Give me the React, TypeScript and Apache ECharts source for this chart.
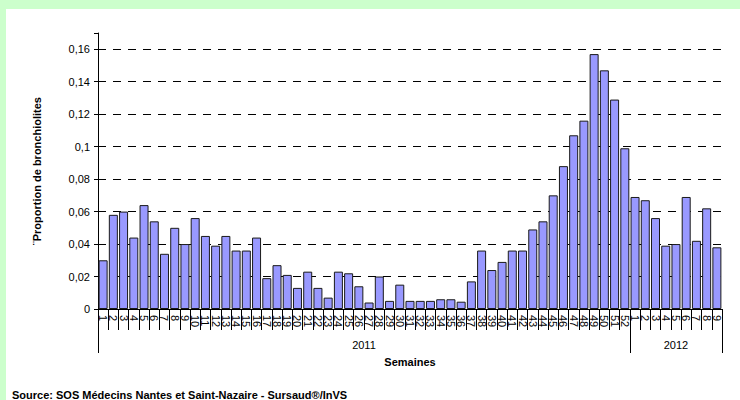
import React, { useEffect, useRef } from "react";
import * as echarts from "echarts";

const weeks2011: string[] = Array.from({ length: 52 }, (_, i) => String(i + 1));
const weeks2012: string[] = ["1", "2", "3", "4", "5", "6", "7", "8", "9"];
const categories: string[] = [...weeks2011, ...weeks2012];

const values2011: number[] = [
  0.030, 0.058, 0.060, 0.044, 0.064, 0.054, 0.034, 0.050, 0.040, 0.056,
  0.045, 0.039, 0.045, 0.036, 0.036, 0.044, 0.019, 0.027, 0.021, 0.013,
  0.023, 0.013, 0.007, 0.023, 0.022, 0.014, 0.004, 0.020, 0.005, 0.015,
  0.005, 0.005, 0.005, 0.006, 0.006, 0.0045, 0.017, 0.036, 0.024, 0.029,
  0.036, 0.036, 0.049, 0.054, 0.070, 0.088, 0.107, 0.116, 0.157, 0.147,
  0.129, 0.099,
];
const values2012: number[] = [0.069, 0.067, 0.056, 0.039, 0.040, 0.069, 0.042, 0.062, 0.038];
const values: number[] = [...values2011, ...values2012];

const yearLabels: string[] = ["2011", "2012"];
const yTitle = "¨Proportion de bronchiolites";
const xTitle = "Semaines";
const sourceText = "Source: SOS Médecins Nantes et Saint-Nazaire - Sursaud®/InVS";

const FONT = "'Liberation Sans', Arial, sans-serif";

export default function App() {
  const ref = useRef<HTMLDivElement>(null);

  useEffect(() => {
    if (!ref.current) return;
    const chart = echarts.init(ref.current, undefined, { renderer: "svg" });
    const n2011 = weeks2011.length;
    const nAll = categories.length;
    chart.setOption({
      animation: false,
      textStyle: { fontFamily: FONT },
      grid: { left: 92, right: 18, top: 24, bottom: 91, containLabel: false },
      xAxis: [
        {
          type: "category",
          data: categories,
          boundaryGap: true,
          axisLine: { show: true, lineStyle: { color: "#000", width: 1 } },
          axisTick: { show: true, interval: 0, length: 21, alignWithLabel: false, lineStyle: { color: "#000" } },
          axisLabel: { interval: 0, rotate: -90, fontSize: 11, margin: 6, color: "#000", fontFamily: FONT },
          splitLine: { show: false },
        },
        {
          type: "value",
          min: 0,
          max: nAll,
          position: "bottom",
          offset: 21,
          axisLine: { show: false },
          axisTick: { show: true, customValues: [0, n2011, nAll], length: 23, lineStyle: { color: "#000" } },
          axisLabel: {
            show: true,
            customValues: [n2011 / 2, (n2011 + nAll) / 2],
            formatter: (v: number) => (v < n2011 ? yearLabels[0] : yearLabels[1]),
            fontSize: 11,
            color: "#000",
            margin: 9,
            fontFamily: FONT,
          },
          splitLine: { show: false },
          name: xTitle,
          nameLocation: "middle",
          nameGap: 26,
          nameTextStyle: { fontSize: 11, fontWeight: "bold", color: "#000", fontFamily: FONT },
        },
      ],
      yAxis: {
        type: "value",
        min: 0,
        max: 0.17,
        interval: 0.02,
        name: yTitle,
        nameLocation: "middle",
        nameGap: 56,
        nameTextStyle: { fontSize: 11, fontWeight: "bold", color: "#000", fontFamily: FONT },
        axisLine: { show: true, lineStyle: { color: "#000", width: 1 } },
        axisTick: { show: true, length: 4, lineStyle: { color: "#000" } },
        axisLabel: {
          fontSize: 11,
          color: "#000",
          margin: 8,
          fontFamily: FONT,
          formatter: (v: number) => {
            if (Math.abs(v - 0.17) < 1e-9) return "";
            return String(parseFloat(v.toFixed(2))).replace(".", ",");
          },
        },
        splitLine: {
          show: true,
          showMinLine: false,
          showMaxLine: false,
          lineStyle: { color: "#000", type: [8, 7], width: 1 },
        },
      },
      series: [
        {
          type: "bar",
          xAxisIndex: 0,
          yAxisIndex: 0,
          data: values,
          barCategoryGap: "12%",
          itemStyle: { color: "#9999ff", borderColor: "#1a1a1a", borderWidth: 1 },
        },
      ],
      graphic: [
        {
          type: "text",
          left: 6,
          top: 380,
          style: { text: sourceText, fontSize: 11, fontWeight: "bold", fill: "#000", fontFamily: FONT },
        },
      ],
    });
    return () => chart.dispose();
  }, []);

  return (
    <div style={{ position: "fixed", left: 0, top: 0, width: 740, height: 400, background: "#ccffcc" }}>
      <div
        ref={ref}
        style={{ position: "absolute", left: 6, top: 9, width: 734, height: 391, background: "#ffffff" }}
      />
    </div>
  );
}
